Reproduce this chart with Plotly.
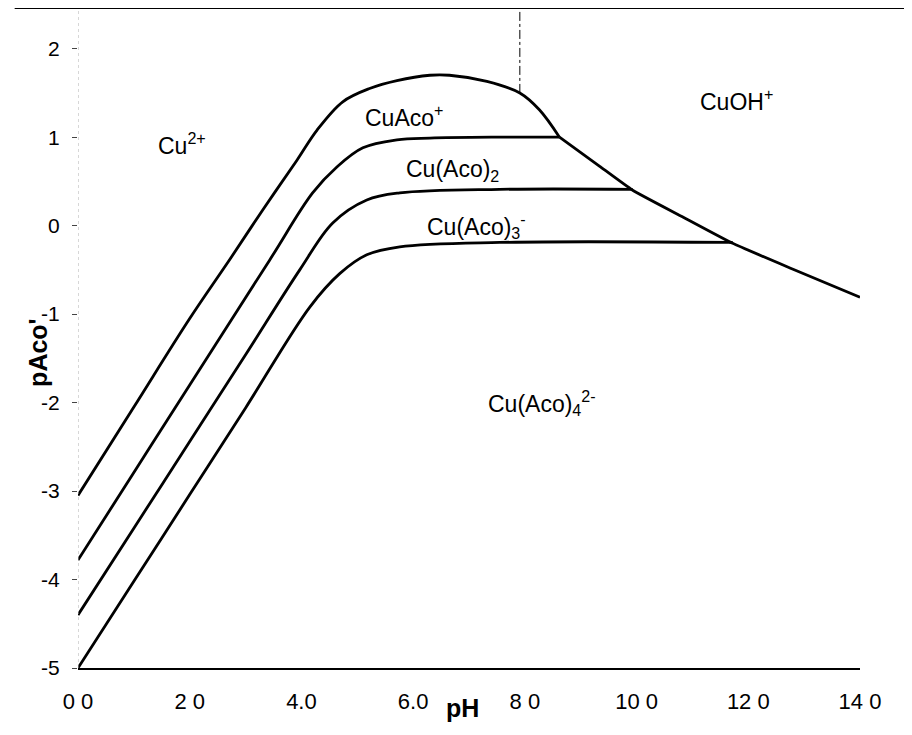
import plotly.graph_objects as go

# Boundary lines (pH, pAco')
# upper boundary of Cu2+/CuAco+ (rising cap)
b1_ph = [0, 1.0, 2.0, 2.72, 3.31, 3.92, 4.28, 4.74, 5.22, 5.71, 6.30, 6.65, 7.32, 7.91, 8.26, 8.62]
b1_p = [-3.05, -2.05, -1.05, -0.38, 0.18, 0.74, 1.08, 1.40, 1.55, 1.64, 1.70, 1.70, 1.63, 1.50, 1.31, 1.00]
# CuOH+ boundary (descending)
bo_ph = [8.62, 9.34, 9.93, 10.82, 11.72, 12.79, 14.0]
bo_p = [1.00, 0.67, 0.40, 0.10, -0.20, -0.49, -0.81]

b2_ph = [0, 1.0, 2.0, 3.43, 4.20, 4.63, 5.10, 5.71, 6.30, 7.50, 8.62]
b2_p = [-3.78, -2.79, -1.80, -0.39, 0.37, 0.66, 0.88, 0.97, 0.99, 1.00, 1.00]

b3_ph = [0, 1.0, 2.0, 3.0, 3.97, 4.56, 5.17, 5.76, 7.55, 9.93]
b3_p = [-4.40, -3.42, -2.44, -1.46, -0.50, 0.03, 0.29, 0.37, 0.41, 0.41]

b4_ph = [0, 1.0, 2.0, 3.0, 4.15, 4.69, 5.17, 5.76, 7.55, 11.72]
b4_p = [-5.00, -4.02, -3.04, -2.06, -0.92, -0.54, -0.33, -0.24, -0.19, -0.19]

# dash-dot vertical marker
vline_ph = [7.91, 7.91]
vline_p = [1.50, 2.46]

# region labels
lab_text = ["Cu<sup>2+</sup>", "CuAco<sup>+</sup>", "Cu(Aco)<sub>2</sub>", "Cu(Aco)<sub>3</sub><sup>-</sup>",
            "CuOH<sup>+</sup>", "Cu(Aco)<sub>4</sub><sup>2-</sup>"]
lab_ph = [1.86, 5.84, 6.70, 7.13, 11.78, 8.31]
lab_p = [0.92, 1.24, 0.62, 0.00, 1.42, -2.00]

xtick_vals = [0, 2, 4, 6, 8, 10, 12, 14]
xtick_text = ["0 0", "2 0", "4.0", "6.0", "8 0", "10 0", "12 0", "14 0"]
ytick_vals = [2, 1, 0, -1, -2, -3, -4, -5]
ytick_text = ["2", "1", "0", "-1", "-2", "-3", "-4", "-5"]

FONT = "Liberation Sans, Arial, sans-serif"

fig = go.Figure()
for xs, ys in [(b1_ph, b1_p), (b2_ph, b2_p), (b3_ph, b3_p), (b4_ph, b4_p)]:
    fig.add_trace(go.Scatter(x=xs, y=ys, mode="lines",
                             line=dict(color="black", width=2.8, shape="spline", smoothing=1.0),
                             showlegend=False, hoverinfo="skip"))
fig.add_trace(go.Scatter(x=bo_ph, y=bo_p, mode="lines",
                         line=dict(color="black", width=2.8, shape="spline", smoothing=0.4),
                         showlegend=False, hoverinfo="skip"))
fig.add_trace(go.Scatter(x=vline_ph, y=vline_p, mode="lines",
                         line=dict(color="black", width=1, dash="dashdot"),
                         showlegend=False, hoverinfo="skip"))

for t, x, y in zip(lab_text, lab_ph, lab_p):
    fig.add_annotation(x=x, y=y, text=t, showarrow=False,
                       font=dict(family=FONT, size=23, color="black"))

fig.add_annotation(xref="paper", yref="paper", x=0.492, y=-0.085, text="<b>pH</b>",
                   showarrow=False, font=dict(family=FONT, size=25, color="black"))
fig.add_annotation(xref="paper", yref="paper", x=-0.072, y=0.477, text="<b>pAco'</b>",
                   textangle=-90, showarrow=False, font=dict(family=FONT, size=25, color="black"))

# top border line and faint dotted left axis
fig.add_shape(type="line", xref="paper", yref="paper", x0=-0.081, x1=1.066, y0=1, y1=1,
              line=dict(color="black", width=2))
fig.add_shape(type="line", xref="x", yref="y", x0=0, x1=0, y0=-5, y1=2.46,
              line=dict(color="#b0b0b0", width=1, dash="dot"))

fig.update_layout(
    width=904, height=727,
    margin=dict(l=70, r=52, t=0, b=67),
    paper_bgcolor="white", plot_bgcolor="white",
    font=dict(family=FONT, color="black"),
)
fig.update_xaxes(range=[0, 14], tickvals=xtick_vals, ticktext=xtick_text,
                 showgrid=False, zeroline=False, showline=True, linecolor="black", linewidth=2,
                 ticks="", ticklabelstandoff=13, tickfont=dict(size=22, family=FONT))
fig.update_yaxes(range=[-5, 2.46], tickvals=ytick_vals, ticktext=ytick_text,
                 showgrid=False, zeroline=False, showline=False,
                 ticks="outside", ticklen=5, tickcolor="#444", tickwidth=1,
                 ticklabelstandoff=8, tickfont=dict(size=21, family=FONT))

fig.write_html("out.html")
